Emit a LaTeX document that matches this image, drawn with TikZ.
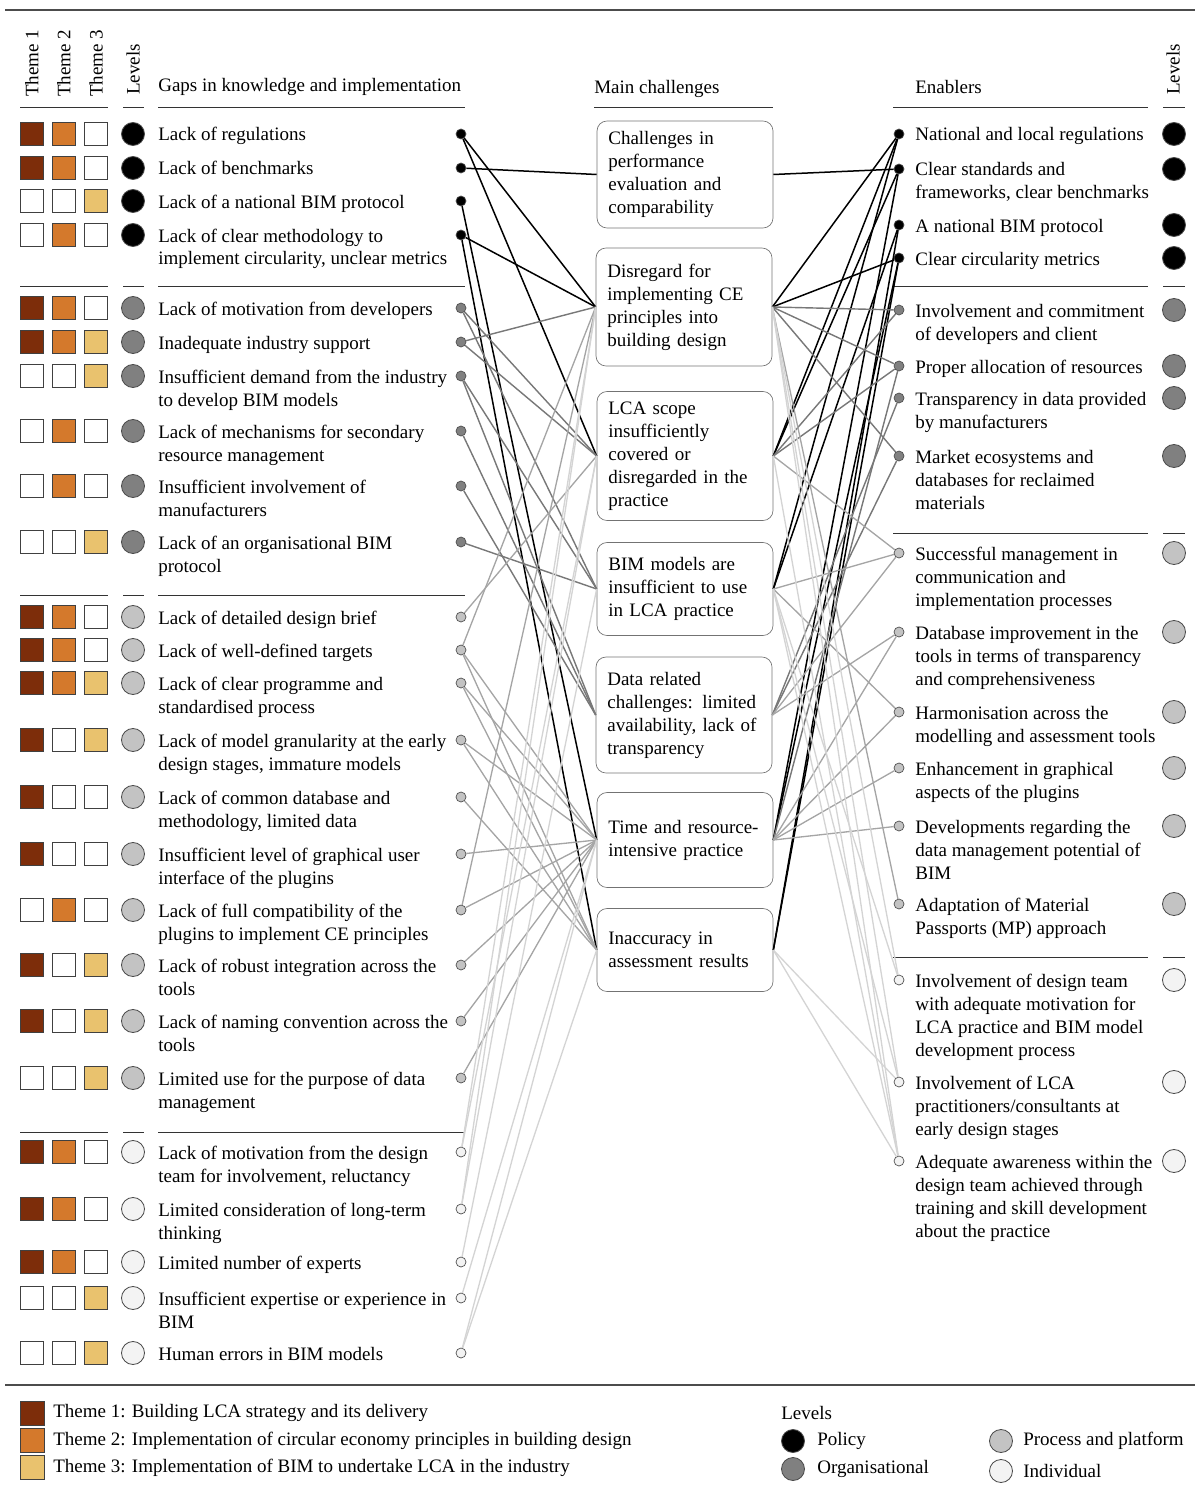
\documentclass[tikz,border=0pt]{standalone}
\usepackage{fontspec}
\setmainfont{Liberation Serif}
\usetikzlibrary{positioning}

\definecolor{thA}{RGB}{125,45,10}
\definecolor{thB}{RGB}{212,121,44}
\definecolor{thC}{RGB}{233,194,110}
\definecolor{lvP}{RGB}{0,0,0}
\definecolor{lvO}{RGB}{128,128,128}
\definecolor{lvR}{RGB}{195,195,195}
\definecolor{lvI}{RGB}{243,243,243}
\definecolor{lnO}{RGB}{120,120,120}
\definecolor{lnR}{RGB}{165,165,165}
\definecolor{lnI}{RGB}{212,212,212}

\tikzset{
  sq/.style={draw=black!75, minimum size=13.8pt, inner sep=0, line width=0.6pt},
  lev/.style={circle, draw=black!70, minimum size=13.8pt, inner sep=0, line width=0.5pt},
  dot/.style={circle, draw=black!70, minimum size=6pt, inner sep=0, line width=0.4pt},
  gap/.style={anchor=base west, inner sep=0},
  chal/.style={draw=black!55, rounded corners=6pt, inner xsep=6.8pt, text width=92pt, align=left},
  rule/.style={black!80, line width=0.6pt},
  linkP/.style={black, line width=0.9pt},
  linkO/.style={lnO, line width=0.85pt},
  linkR/.style={lnR, line width=0.8pt},
  linkI/.style={lnI, line width=0.8pt},
}

\begin{document}
\begin{tikzpicture}[x=0.6pt, y=-0.6pt, font=\fontsize{11.4}{13.8}\selectfont]
  \useasboundingbox (0,0) rectangle (1198,1493);

  % rules and headers
  \draw[black!70, line width=1.1pt] (5,10) -- (1195,10);
  \draw[black!70, line width=1.1pt] (5,1385) -- (1195,1385);
  \node[rotate=90, anchor=west, inner sep=0] (h1) at (32,97) {Theme 1};
  \node[rotate=90, anchor=west, inner sep=0] (h2) at (64,97) {Theme 2};
  \node[rotate=90, anchor=west, inner sep=0] (h3) at (96,97) {Theme 3};
  \node[rotate=90, anchor=west, inner sep=0] (hl) at (133,95) {Levels};
  \node[rotate=90, anchor=west, inner sep=0] (hr) at (1173,95) {Levels};
  \node[gap] (hgap) at (158,92) {Gaps in knowledge and implementation};
  \node[gap] (hmain) at (594,94) {Main challenges};
  \node[gap] (henab) at (915,94) {Enablers};
  \foreach \y in {108,286,595,1132}{
    \draw[rule] (20,\y) -- (108,\y);
    \draw[rule] (123,\y) -- (144,\y);
    \draw[rule] (158,\y) -- (465,\y);
  }
  \draw[rule] (594,108) -- (773,108);
  \foreach \y in {108,286,533,957}{
    \draw[rule] (893,\y) -- (1148,\y);
    \draw[rule] (1163,\y) -- (1185,\y);
  }

  % gaps in knowledge and implementation
  \foreach \y/\a/\b/\c/\l/\t [count=\i] in {
    134/thA/thB/white/lvP/{Lack of regulations},
    168/thA/thB/white/lvP/{Lack of benchmarks},
    201/white/white/thC/lvP/{Lack of a national BIM protocol},
    235/white/thB/white/lvP/{Lack of clear methodology to\\implement circularity, unclear metrics},
    308/thA/thB/white/lvO/{Lack of motivation from developers},
    342/thA/thB/thC/lvO/{Inadequate industry support},
    376/white/white/thC/lvO/{Insufficient demand from the industry\\to develop BIM models},
    431/white/thB/white/lvO/{Lack of mechanisms for secondary\\resource management},
    486/white/thB/white/lvO/{Insufficient involvement of\\manufacturers},
    542/white/white/thC/lvO/{Lack of an organisational BIM\\protocol},
    617/thA/thB/white/lvR/{Lack of detailed design brief},
    650/thA/thB/white/lvR/{Lack of well-defined targets},
    683/thA/thB/thC/lvR/{Lack of clear programme and\\standardised process},
    740/thA/white/thC/lvR/{Lack of model granularity at the early\\design stages, immature models},
    797/thA/white/white/lvR/{Lack of common database and\\methodology, limited data},
    854/thA/white/white/lvR/{Insufficient level of graphical user\\interface of the plugins},
    910/white/thB/white/lvR/{Lack of full compatibility of the\\plugins to implement CE principles},
    965/thA/white/thC/lvR/{Lack of robust integration across the\\tools},
    1021/thA/white/thC/lvR/{Lack of naming convention across the\\tools},
    1078/white/white/thC/lvR/{Limited use for the purpose of data\\management},
    1152/thA/thB/white/lvI/{Lack of motivation from the design\\team for involvement, reluctancy},
    1209/thA/thB/white/lvI/{Limited consideration of long-term\\thinking},
    1262/thA/thB/white/lvI/{Limited number of experts},
    1298/white/white/thC/lvI/{Insufficient expertise or experience in\\BIM},
    1353/white/white/thC/lvI/{Human errors in BIM models}}{
    \node[sq, fill=\a] at (32,\y) {};
    \node[sq, fill=\b] at (64,\y) {};
    \node[sq, fill=\c] at (96,\y) {};
    \node[lev, fill=\l] at (133,\y) {};
    \node[gap] (gt\i) at (158,\y+7) {\parbox[t]{200pt}{\t}};
    \node[dot, fill=\l] (g\i) at (461,\y) {};
  }

  % main challenges
  \node[chal, minimum height=64.2pt] (c1) at (685,174.5) {Challenges in\\performance\\evaluation and\\comparability};
  \node[chal, minimum height=70.8pt] (c2) at (684,307) {Disregard for\\implementing CE\\principles into\\building design};
  \node[chal, minimum height=77.4pt] (c3) at (685,456) {LCA scope\\insufficiently\\covered or\\disregarded in the\\practice};
  \node[chal, minimum height=55.8pt] (c4) at (685,589) {BIM models are\\insufficient to use\\in LCA practice};
  \node[chal, minimum height=69.6pt] (c5) at (684,715) {Data related\\challenges: limited\\availability, lack of\\transparency};
  \node[chal, minimum height=57pt] (c6) at (685,840) {Time and resource-\\intensive practice};
  \node[chal, minimum height=49.8pt] (c7) at (685,950) {Inaccuracy in\\assessment results};

  % enablers
  \foreach \y/\l/\t [count=\i] in {
    134/lvP/{National and local regulations},
    169/lvP/{Clear standards and\\frameworks, clear benchmarks},
    225/lvP/{A national BIM protocol},
    258/lvP/{Clear circularity metrics},
    310/lvO/{Involvement and commitment\\of developers and client},
    366/lvO/{Proper allocation of resources},
    398/lvO/{Transparency in data provided\\by manufacturers},
    456/lvO/{Market ecosystems and\\databases for reclaimed\\materials},
    553/lvR/{Successful management in\\communication and\\implementation processes},
    632/lvR/{Database improvement in the\\tools in terms of transparency\\and comprehensiveness},
    712/lvR/{Harmonisation across the\\modelling and assessment tools},
    768/lvR/{Enhancement in graphical\\aspects of the plugins},
    826/lvR/{Developments regarding the\\data management potential of\\BIM},
    904/lvR/{Adaptation of Material\\Passports (MP) approach},
    980/lvI/{Involvement of design team\\with adequate motivation for\\LCA practice and BIM model\\development process},
    1082/lvI/{Involvement of LCA\\practitioners/consultants at\\early design stages},
    1161/lvI/{Adequate awareness within the\\design team achieved through\\training and skill development\\about the practice}}{
    \node[dot, fill=\l] (e\i) at (899,\y) {};
    \node[gap] (et\i) at (915,\y+7) {\parbox[t]{150pt}{\t}};
    \node[lev, fill=\l] at (1174,\y) {};
  }

  % links gaps -> challenges
  \foreach \a/\b in {g1/c2, g1/c3, g2/c1, g3/c6, g4/c2, g4/c7}
    \draw[linkP] (\a) -- (\b.west);
  \foreach \a/\b in {g5/c3, g5/c4, g6/c2, g6/c3, g7/c4, g7/c5, g8/c5, g9/c5, g10/c4}
    \draw[linkO] (\a) -- (\b.west);
  \foreach \a/\b in {g11/c3, g12/c2, g12/c6, g12/c7, g13/c6, g13/c7, g14/c6, g14/c7, g15/c7,
                     g16/c6, g17/c2, g17/c6, g18/c6, g19/c6, g20/c6}
    \draw[linkR] (\a) -- (\b.west);
  \foreach \a/\b in {g21/c2, g21/c3, g22/c2, g22/c3, g23/c4, g24/c6, g25/c6, g25/c7}
    \draw[linkI] (\a) -- (\b.west);

  % links challenges -> enablers
  \foreach \a/\b in {c1/e2, c2/e1, c2/e4, c3/e1, c3/e2, c4/e1, c4/e3, c6/e2, c6/e4, c7/e3, c7/e4}
    \draw[linkP] (\a.east) -- (\b);
  \foreach \a/\b in {c2/e5, c2/e6, c2/e8, c3/e5, c3/e6, c5/e7, c5/e8, c6/e6}
    \draw[linkO] (\a.east) -- (\b);
  \foreach \a/\b in {c2/e14, c3/e9, c4/e9, c4/e11, c5/e9, c5/e10, c6/e10, c6/e11, c6/e12, c6/e13}
    \draw[linkR] (\a.east) -- (\b);
  \foreach \a/\b in {c2/e15, c2/e16, c2/e17, c3/e17, c4/e15, c4/e16, c4/e17, c7/e16, c7/e17}
    \draw[linkI] (\a.east) -- (\b);

  % legend
  \node[sq, fill=thA, minimum size=14.4pt] (k1) at (32,1413) {};
  \node[sq, fill=thB, minimum size=14.4pt] (k2) at (32,1440) {};
  \node[sq, fill=thC, minimum size=14.4pt] (k3) at (32,1467) {};
  \node[anchor=west, inner sep=0] (kt1) at (53,1413) {Theme 1: Building LCA strategy and its delivery};
  \node[anchor=west, inner sep=0] (kt2) at (53,1441) {Theme 2: Implementation of circular economy principles in building design};
  \node[anchor=west, inner sep=0] (kt3) at (53,1468) {Theme 3: Implementation of BIM to undertake LCA in the industry};
  \node[anchor=west, inner sep=0] (kl) at (781,1413) {Levels};
  \node[lev, fill=lvP] (kp) at (793,1441) {};
  \node[lev, fill=lvO] (ko) at (793,1469) {};
  \node[lev, fill=lvR] (kr) at (1001,1441) {};
  \node[lev, fill=lvI] (ki) at (1001,1471) {};
  \node[anchor=west, inner sep=0] at (817,1441) {Policy};
  \node[anchor=west, inner sep=0] at (817,1469) {Organisational};
  \node[anchor=west, inner sep=0] at (1023,1441) {Process and platform};
  \node[anchor=west, inner sep=0] at (1023,1471) {Individual};
\end{tikzpicture}
\end{document}
